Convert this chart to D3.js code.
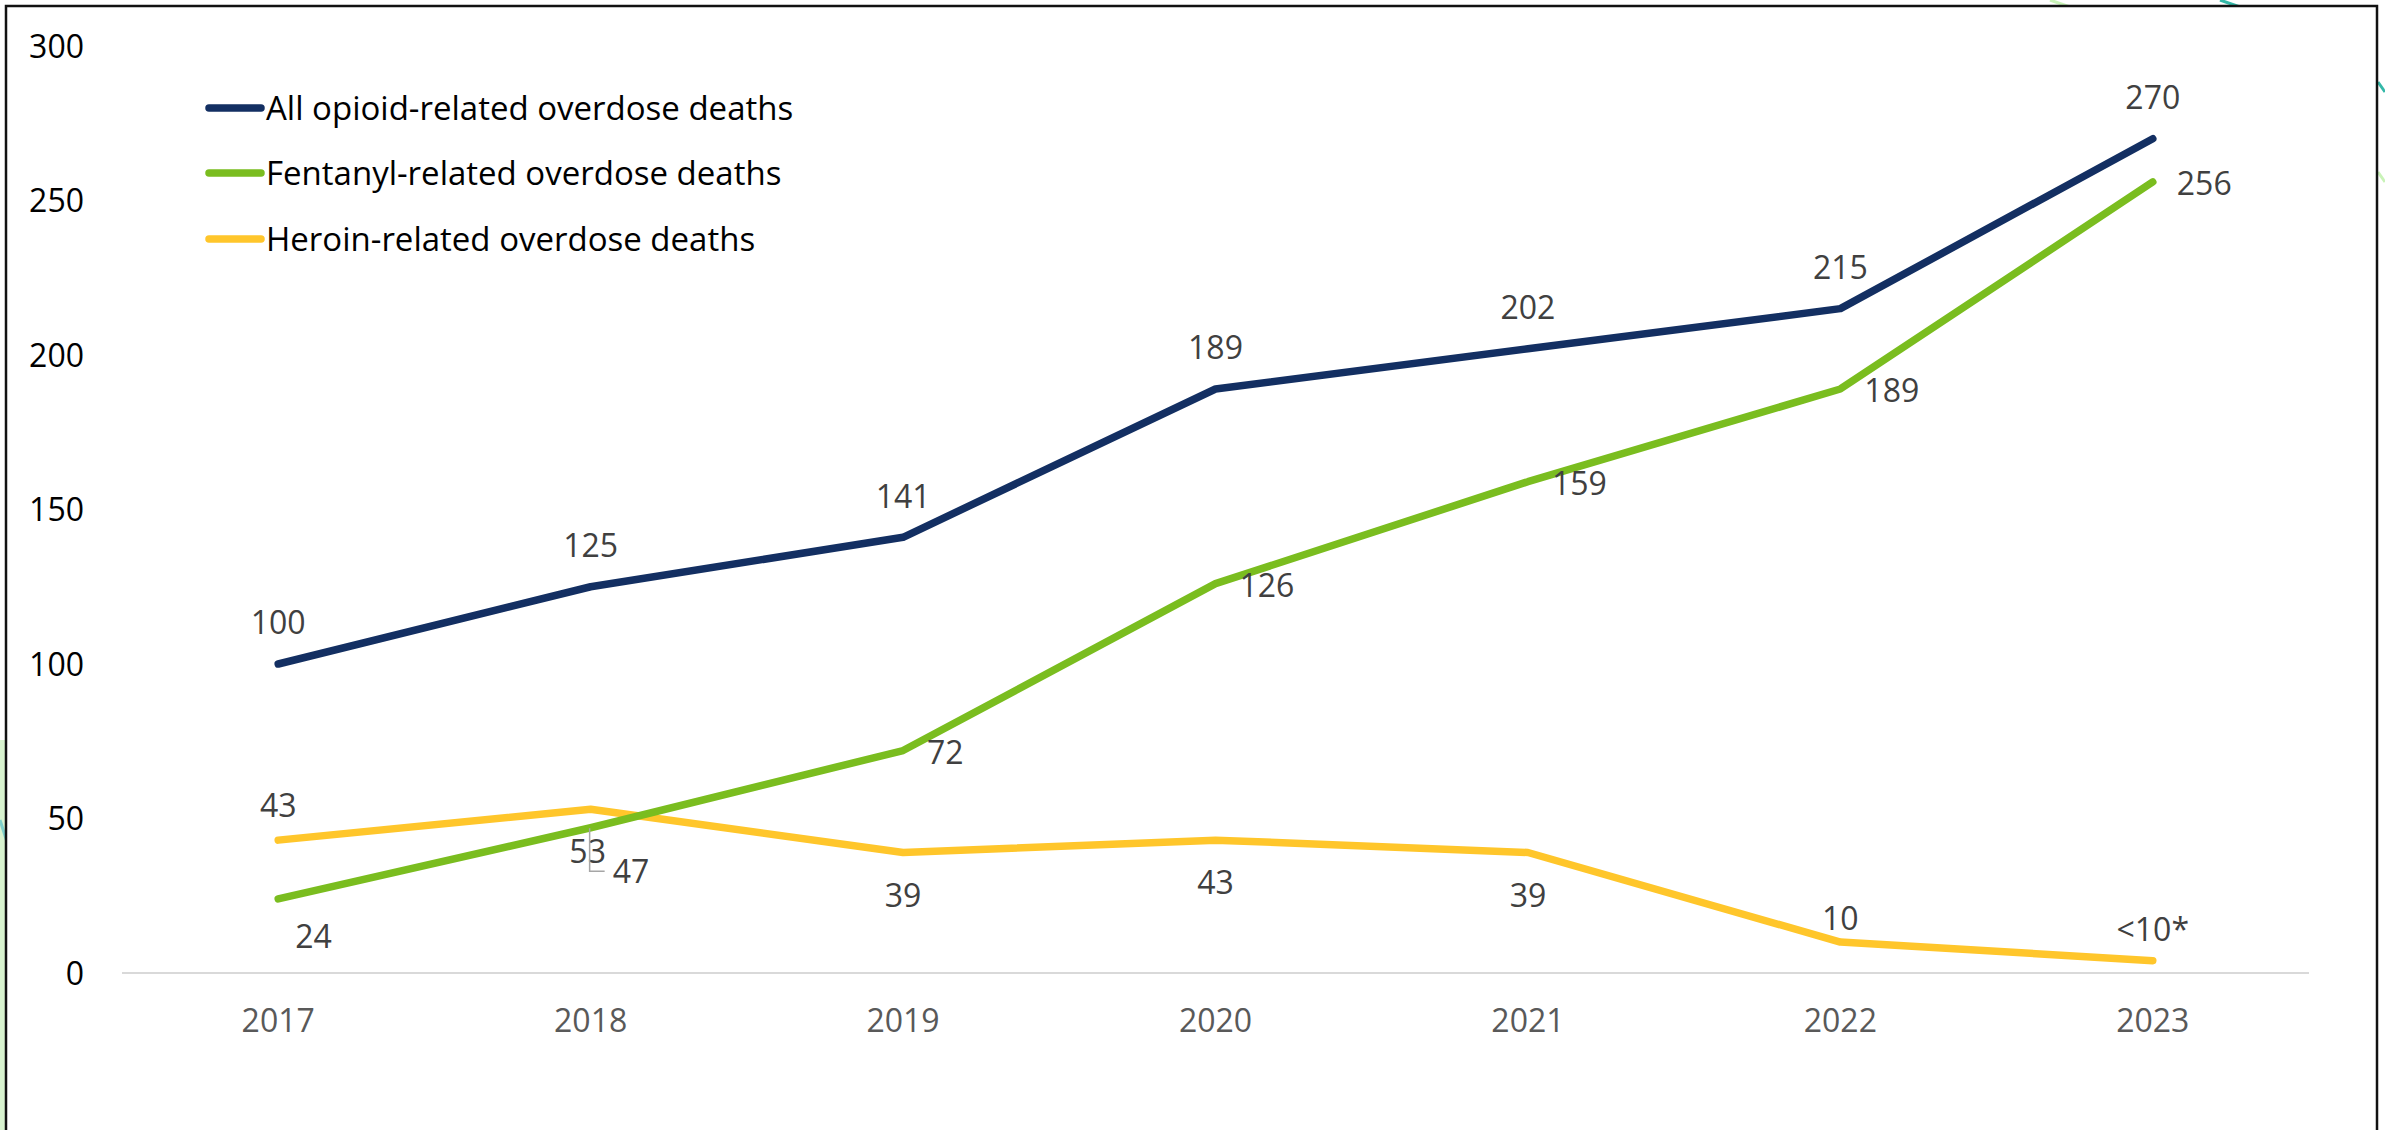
<!DOCTYPE html>
<html>
<head>
<meta charset="utf-8">
<script src="https://cdn.jsdelivr.net/npm/d3@7"></script>
<style>
  body { margin: 0; background: #fff; }
  text { font-family: "Open Sans", sans-serif; }
</style>
</head>
<body>
<div id="chart"></div>
<script>
// chart data
var years = ["2017", "2018", "2019", "2020", "2021", "2022", "2023"];
var allOpioid = [100, 125, 141, 189, 202, 215, 270];
var fentanyl = [24, 47, 72, 126, 159, 189, 256];
var heroin = [43, 53, 39, 43, 39, 10, 4];
var heroinLabels = ["43", "53", "39", "43", "39", "10", "<10*"];
var seriesNames = ["All opioid-related overdose deaths",
                   "Fentanyl-related overdose deaths",
                   "Heroin-related overdose deaths"];
var yTicks = [0, 50, 100, 150, 200, 250, 300];

var W = 2385, H = 1130;
var colors = ["#132f62", "#7abd1f", "#ffc62b"];
var fs = 32;

var svg = d3.select("#chart").append("svg")
    .attr("width", W).attr("height", H);

// decoration outside the frame
var deco = svg.append("g");
deco.append("rect").attr("x", 0).attr("y", 740).attr("width", 8).attr("height", H - 740)
    .attr("fill", "#d8f3cf");
deco.append("path").attr("d", "M0,820 L8,845").attr("stroke", "#7fd0cb").attr("stroke-width", 3);
deco.append("path").attr("d", "M2050,0 L2070,7").attr("stroke", "#c9f3b8").attr("stroke-width", 3);
deco.append("path").attr("d", "M2220,0 L2240,7").attr("stroke", "#34b8a8").attr("stroke-width", 3);
deco.append("path").attr("d", "M2378,82 L2385,92").attr("stroke", "#34b8a8").attr("stroke-width", 3);
deco.append("path").attr("d", "M2378,172 L2385,182").attr("stroke", "#c9f3b8").attr("stroke-width", 3);

// frame
svg.append("rect")
    .attr("x", 6).attr("y", 6).attr("width", 2371).attr("height", H + 10)
    .attr("fill", "#fff").attr("stroke", "#111").attr("stroke-width", 2.5);

var x = d3.scaleBand().domain(years).range([122, 2309]);
var y = d3.scaleLinear().domain([0, 300]).range([973, 46]);
function cx(i) { return x(years[i]) + x.bandwidth() / 2; }

// baseline
svg.append("line")
    .attr("x1", 122).attr("x2", 2309)
    .attr("y1", y(0)).attr("y2", y(0))
    .attr("stroke", "#d9d9d9").attr("stroke-width", 2);

// y axis labels
var yAxis = svg.append("g")
    .attr("transform", "translate(84,0)")
    .call(d3.axisLeft(y).tickValues(yTicks).tickSize(0).tickPadding(0));
yAxis.select(".domain").remove();
yAxis.selectAll("text")
    .attr("fill", "#000").attr("font-size", fs).attr("font-family", "Open Sans")
    .attr("dy", "0.35em");

// x axis labels
var xAxis = svg.append("g")
    .attr("transform", "translate(0," + 1021 + ")")
    .call(d3.axisBottom(x).tickSize(0).tickPadding(0));
xAxis.select(".domain").remove();
xAxis.selectAll("text")
    .attr("fill", "#595959").attr("font-size", fs).attr("font-family", "Open Sans")
    .attr("dy", "0.35em");

// lines
var line = d3.line()
    .x(function(d, i) { return cx(i); })
    .y(function(d) { return y(d); });

var allSeries = [allOpioid, fentanyl, heroin];
// heroin first, opioid on top
[2, 1, 0].forEach(function(k) {
    svg.append("path")
        .datum(allSeries[k])
        .attr("d", line)
        .attr("fill", "none")
        .attr("stroke", colors[k])
        .attr("stroke-width", 7.5)
        .attr("stroke-linecap", "round")
        .attr("stroke-linejoin", "round");
});

// data labels
var labels = svg.append("g")
    .attr("font-size", fs).attr("fill", "#404040")
    .attr("font-family", "Open Sans");

allOpioid.forEach(function(v, i) {
    labels.append("text")
        .attr("x", cx(i)).attr("y", y(v) - 41)
        .attr("text-anchor", "middle").attr("dy", "0.35em")
        .text(v);
});

fentanyl.forEach(function(v, i) {
    var dx = 24, dy = 2;
    if (i == 0) { dx = 17; dy = 38; }
    if (i == 1) { dx = 22; dy = 44; }
    labels.append("text")
        .attr("x", cx(i) + dx).attr("y", y(v) + dy)
        .attr("text-anchor", "start").attr("dy", "0.35em")
        .text(v);
});

heroin.forEach(function(v, i) {
    // above for first and last two, below otherwise
    var dy;
    if (i == 0) dy = -34;
    else if (i == 5) dy = -23;
    else if (i == 6) dy = -31;
    else dy = 43;
    var lx = cx(i) + (i == 1 ? -3 : 0);
    labels.append("text")
        .attr("x", lx).attr("y", y(v) + dy)
        .attr("text-anchor", "middle").attr("dy", "0.35em")
        .text(heroinLabels[i]);
});

// leader line for the 2018 heroin label
svg.append("path")
    .attr("d", "M" + (cx(1) - 1) + "," + (y(heroin[1]) + 19) +
               " V" + (y(heroin[1]) + 62) + " H" + (cx(1) + 14))
    .attr("fill", "none").attr("stroke", "#a6a6a6").attr("stroke-width", 1.5);

// legend
var legend = svg.append("g");
var legendY = [108, 173, 239];
seriesNames.forEach(function(name, k) {
    legend.append("line")
        .attr("x1", 209).attr("x2", 261)
        .attr("y1", legendY[k]).attr("y2", legendY[k])
        .attr("stroke", colors[k]).attr("stroke-width", 7.5)
        .attr("stroke-linecap", "round");
    legend.append("text")
        .attr("x", 266).attr("y", legendY[k]).attr("dy", "0.35em")
        .attr("font-size", 33).attr("fill", "#000")
        .text(name);
});
</script>
</body>
</html>
